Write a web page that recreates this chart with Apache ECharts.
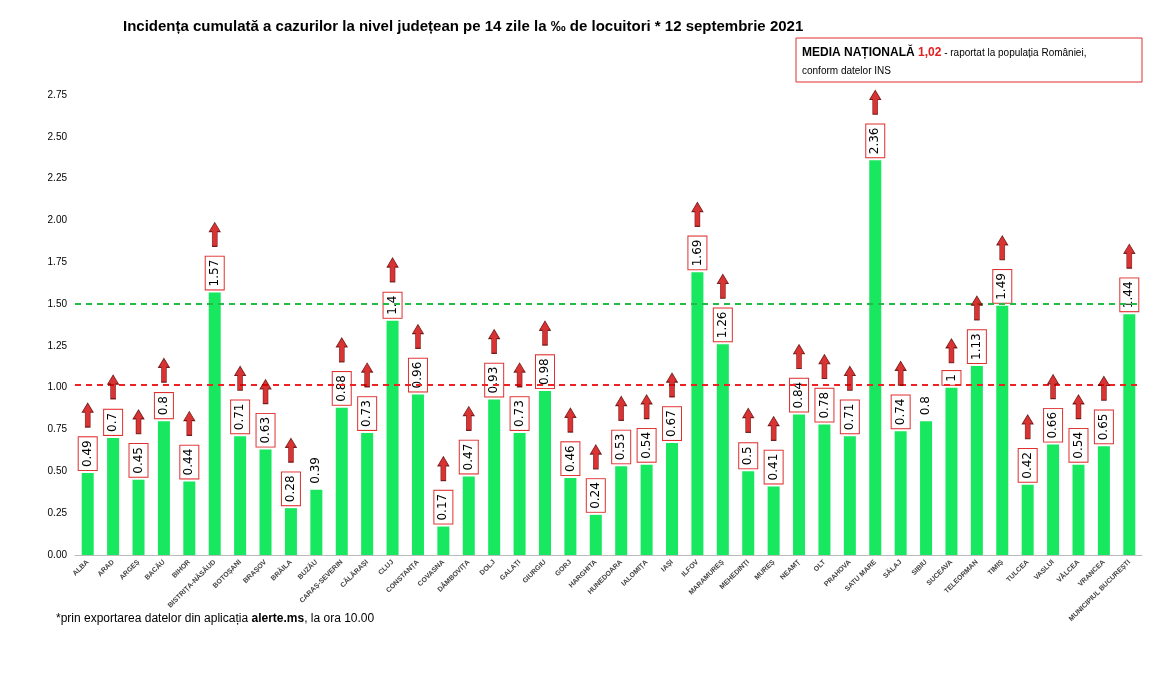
<!DOCTYPE html>
<html><head><meta charset="utf-8">
<script src="https://cdn.jsdelivr.net/npm/echarts@6/dist/echarts.min.js"></script>
<style>body{margin:0;background:#fff}#c{width:1166px;height:688px}</style>
</head><body><div id="c"></div>
<script>
const counties = ['ALBA','ARAD','ARGEȘ','BACĂU','BIHOR','BISTRIȚA-NĂSĂUD','BOTOȘANI','BRAȘOV','BRĂILA','BUZĂU','CARAȘ-SEVERIN','CĂLĂRAȘI','CLUJ','CONSTANȚA','COVASNA','DÂMBOVIȚA','DOLJ','GALAȚI','GIURGIU','GORJ','HARGHITA','HUNEDOARA','IALOMIȚA','IAȘI','ILFOV','MARAMUREȘ','MEHEDINȚI','MUREȘ','NEAMȚ','OLT','PRAHOVA','SATU MARE','SĂLAJ','SIBIU','SUCEAVA','TELEORMAN','TIMIȘ','TULCEA','VASLUI','VÂLCEA','VRANCEA','MUNICIPIUL BUCUREȘTI'];
const incidence = [0.49,0.7,0.45,0.8,0.44,1.57,0.71,0.63,0.28,0.39,0.88,0.73,1.4,0.96,0.17,0.47,0.93,0.73,0.98,0.46,0.24,0.53,0.54,0.67,1.69,1.26,0.5,0.41,0.84,0.78,0.71,2.36,0.74,0.8,1,1.13,1.49,0.42,0.66,0.54,0.65,1.44];
const noArrow = ['BUZĂU','SIBIU'];
const nationalAvg = 1.02;
const threshold = 1.5;

const chart = echarts.init(document.getElementById('c'));
const boxH = v => String(v).length * 7 + 8;

const barData = incidence.map((v, i) => {
  const plain = noArrow.includes(counties[i]);
  return {value: v, label: plain ? {borderWidth: 0} : {}};
});
const arrowData = incidence.map((v, i) => noArrow.includes(counties[i]) ? null :
  {value: v, symbolOffset: [0, -(boxH(v) + 4 + 18)]});

chart.setOption({
  animation: false,
  title: {text: 'Incidența cumulată a cazurilor la nivel județean pe 14 zile la ‰ de locuitori * 12 septembrie 2021',
    left: 118, top: 14, textStyle: {fontSize: 15, fontWeight: 'bold', color: '#000', fontFamily: 'Liberation Sans'}},
  graphic: [
    {type: 'rect', shape: {x: 796, y: 38, width: 346, height: 44}, style: {fill: '#fff', stroke: '#e03030', lineWidth: 1}},
    {type: 'text', left: 802, top: 44, style: {rich: {
        a: {fontSize: 12, fontWeight: 'bold', fill: '#000', fontFamily: 'Liberation Sans'},
        r: {fontSize: 12, fontWeight: 'bold', fill: '#e02020', fontFamily: 'Liberation Sans'},
        s: {fontSize: 10, fill: '#000', fontFamily: 'Liberation Sans'}},
      text: '{a|MEDIA NAȚIONALĂ }{r|1,02}{s| - raportat la populația României,}\n{s|conform datelor INS}', lineHeight: 18}},
    {type: 'text', left: 56, top: 613, style: {rich: {
        s: {fontSize: 12, fill: '#000', fontFamily: 'Liberation Sans'},
        b: {fontSize: 12, fontWeight: 'bold', fill: '#000', fontFamily: 'Liberation Sans'}},
      text: '{s|*prin exportarea datelor din aplicația }{b|alerte.ms}{s|, la ora 10.00}'}}
  ],
  grid: {left: 75, right: 24, top: 95, bottom: 133},
  xAxis: {type: 'category', data: counties,
    axisLine: {lineStyle: {color: '#bbb'}}, axisTick: {show: false},
    axisLabel: {rotate: 45, interval: 0, fontSize: 7, fontWeight: 'bold', color: '#444', margin: 6}},
  yAxis: {type: 'value', min: 0, max: 2.75, interval: 0.25, splitLine: {show: false},
    axisLabel: {fontSize: 10, color: '#000', formatter: v => v.toFixed(2)}},
  series: [
    {type: 'bar', data: barData, barWidth: 12, itemStyle: {color: '#17e860'},
      label: {show: true, position: 'top', rotate: 90, distance: 3, align: 'left', verticalAlign: 'middle',
        fontSize: 12, color: '#000', fontFamily: 'DejaVu Sans', backgroundColor: '#fff',
        borderColor: '#e03030', borderWidth: 1, padding: [3, 3, 3, 3]},
      markLine: {silent: true, symbol: 'none', label: {show: false},
        data: [
          {yAxis: threshold, lineStyle: {color: '#22bb44', type: [6, 5], width: 2}},
          {yAxis: nationalAvg, lineStyle: {color: '#ee2222', type: [6, 5], width: 2}}
        ]}},
    {type: 'scatter', data: arrowData, symbol: 'path://M3,10 L3,26 L8,26 L8,10 L11,10 L5.5,0 L0,10 Z',
      symbolSize: [11, 24], itemStyle: {color: '#d00000', borderColor: '#500', borderWidth: 0.8}, z: 5}
  ]
});
</script></body></html>
